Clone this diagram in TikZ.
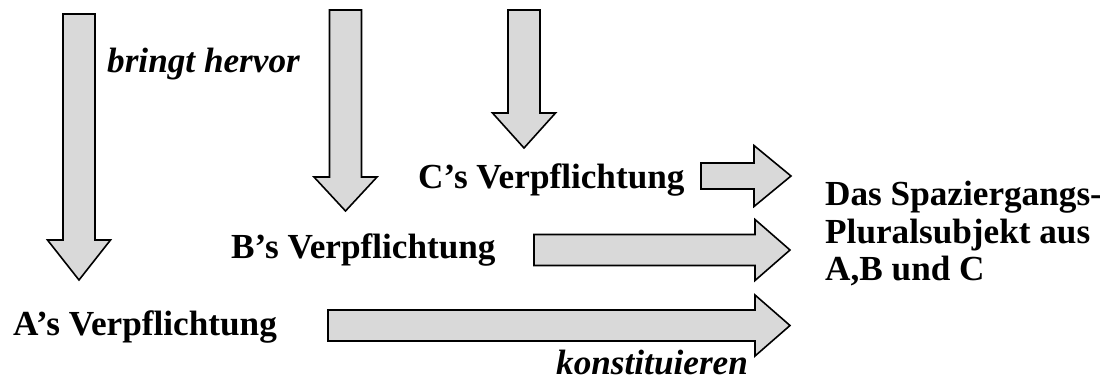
\documentclass[tikz,border=0pt]{standalone}
\usepackage{fontspec}
\setmainfont{Liberation Serif}

% block arrows: #1 centre, #2 start, #3 where the head begins, #4 tip
\newcommand{\downblock}[4]{%
  \draw[blockarrow] (#1-16,#2) -- (#1+16,#2) -- (#1+16,#3) -- (#1+31.5,#3)
    -- (#1,#4) -- (#1-31.5,#3) -- (#1-16,#3) -- cycle;}
\newcommand{\rightblock}[5]{%
  \draw[blockarrow] (#2,#1-#5) -- (#3,#1-#5) -- (#3,#1-30.5) -- (#4,#1)
    -- (#3,#1+30.5) -- (#3,#1+#5) -- (#2,#1+#5) -- cycle;}

\tikzset{
  blockarrow/.style={fill=black!15, draw=black, line width=1.6pt, line join=miter},
  lab/.style={font=\fontsize{35.2}{37.5}\selectfont\bfseries, anchor=base west, inner sep=0pt},
  verb/.style={font=\fontsize{35.2}{37.5}\selectfont\bfseries\itshape, anchor=base west, inner sep=0pt}
}

\begin{document}
\begin{tikzpicture}[x=1pt, y=-1pt]
    \useasboundingbox (0,0) rectangle (1100,381);

    % down arrows
    \downblock{79}{14}{240}{280}
    \downblock{345.5}{10}{177}{211}
    \downblock{524}{10}{113}{148}

    % right arrows
    \rightblock{176}{701}{754}{791}{13}
    \rightblock{250}{534}{755}{790}{15.5}
    \rightblock{325.5}{328}{755}{790}{15.5}

    \node[verb] (bring) at (107,72) {bringt hervor};
    \node[lab] (labC) at (418,188) {C’s Verpflichtung};
    \node[lab] (labB) at (231,258) {B’s Verpflichtung};
    \node[lab] (labA) at (13,335) {A’s Verpflichtung};
    \node[verb] (konst) at (556,374) {konstituieren};
    \node[lab, anchor=north west, align=left] (plural) at (825,181)
        {Das Spaziergangs-\\Pluralsubjekt aus\\A,B und C};
\end{tikzpicture}
\end{document}
